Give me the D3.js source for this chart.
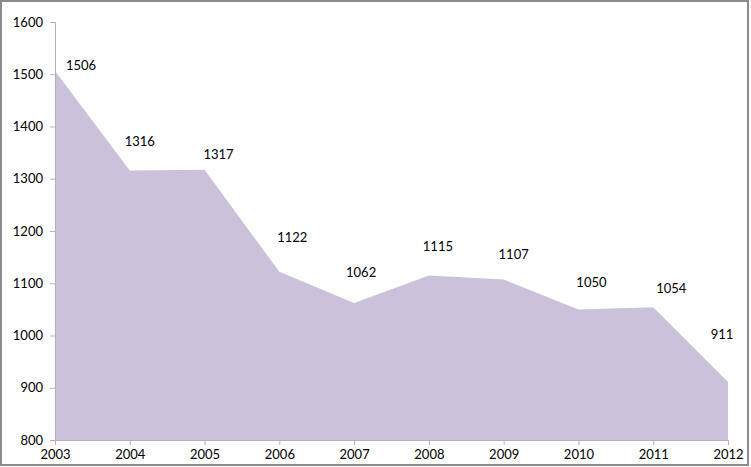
<!DOCTYPE html>
<html>
<head>
<meta charset="utf-8">
<script src="https://cdn.jsdelivr.net/npm/d3@7"></script>
<style>
  body { margin: 0; background: #fff; }
  text { font-family: Lato, "Open Sans", sans-serif; font-size: 13px; fill: #000; }
</style>
</head>
<body>
<div id="chart"></div>
<script>
// data
var years = [2003, 2004, 2005, 2006, 2007, 2008, 2009, 2010, 2011, 2012]
var counts = [1506, 1316, 1317, 1122, 1062, 1115, 1107, 1050, 1054, 911]
var yTicks = [800, 900, 1000, 1100, 1200, 1300, 1400, 1500, 1600]

// hand placed label nudges (px), like the original
var labelDx = [26, 10, 14, 13, 7, 9, 10, 13, 18, -6]
var labelDy = [-6, -29, -15, -34, -31, -29, -25, -27, -19, -48]

var W = 751, H = 467
var margin = {top: 22, right: 23, bottom: 27, left: 55}

var svg = d3.select("#chart").append("svg")
    .attr("width", W).attr("height", H)

// outer frame
svg.append("rect")
    .attr("x", 1).attr("y", 1)
    .attr("width", W - 4).attr("height", H - 3)
    .style("fill", "#fff")
    .style("stroke", "#8c8c8c").style("stroke-width", 2)

var x = d3.scaleLinear()
    .domain([years[0], years[years.length - 1]])
    .range([margin.left, W - margin.right])
var y = d3.scaleLinear()
    .domain([800, 1600])
    .range([H - margin.bottom, margin.top])

var area = d3.area()
    .x(function(d, i) { return x(years[i]) })
    .y0(y(800))
    .y1(function(d) { return y(d) })

svg.append("path")
    .attr("d", area(counts))
    .style("fill", "#ccc1da")

// y axis
var yAxis = d3.axisLeft(y).tickValues(yTicks).tickFormat(d3.format("d"))
    .tickSize(5).tickPadding(7)
var gy = svg.append("g")
    .attr("transform", "translate(" + margin.left + ",0)")
    .call(yAxis)
gy.select(".domain").style("stroke", "#b3b3b3")
gy.selectAll(".tick line").style("stroke", "#b3b3b3")
gy.selectAll("text").style("font-size", "13px").style("fill", "#000")
    .style("font-family", "Lato, 'Open Sans', sans-serif")

// x axis
var xAxis = d3.axisBottom(x).tickValues(years).tickFormat(d3.format("d"))
    .tickSize(5).tickPadding(5)
var gx = svg.append("g")
    .attr("transform", "translate(0," + y(800) + ")")
    .call(xAxis)
gx.select(".domain").style("stroke", "#b3b3b3")
gx.selectAll(".tick line").style("stroke", "#b3b3b3")
gx.selectAll("text").style("font-size", "13px").style("fill", "#000")
    .style("font-family", "Lato, 'Open Sans', sans-serif")

// data labels
svg.append("g").selectAll("text")
    .data(counts)
    .enter().append("text")
    .attr("x", function(d, i) { return x(years[i]) + labelDx[i] })
    .attr("y", function(d, i) { return y(d) + labelDy[i] })
    .attr("dy", "0.35em")
    .attr("text-anchor", "middle")
    .text(function(d) { return d })
</script>
</body>
</html>
